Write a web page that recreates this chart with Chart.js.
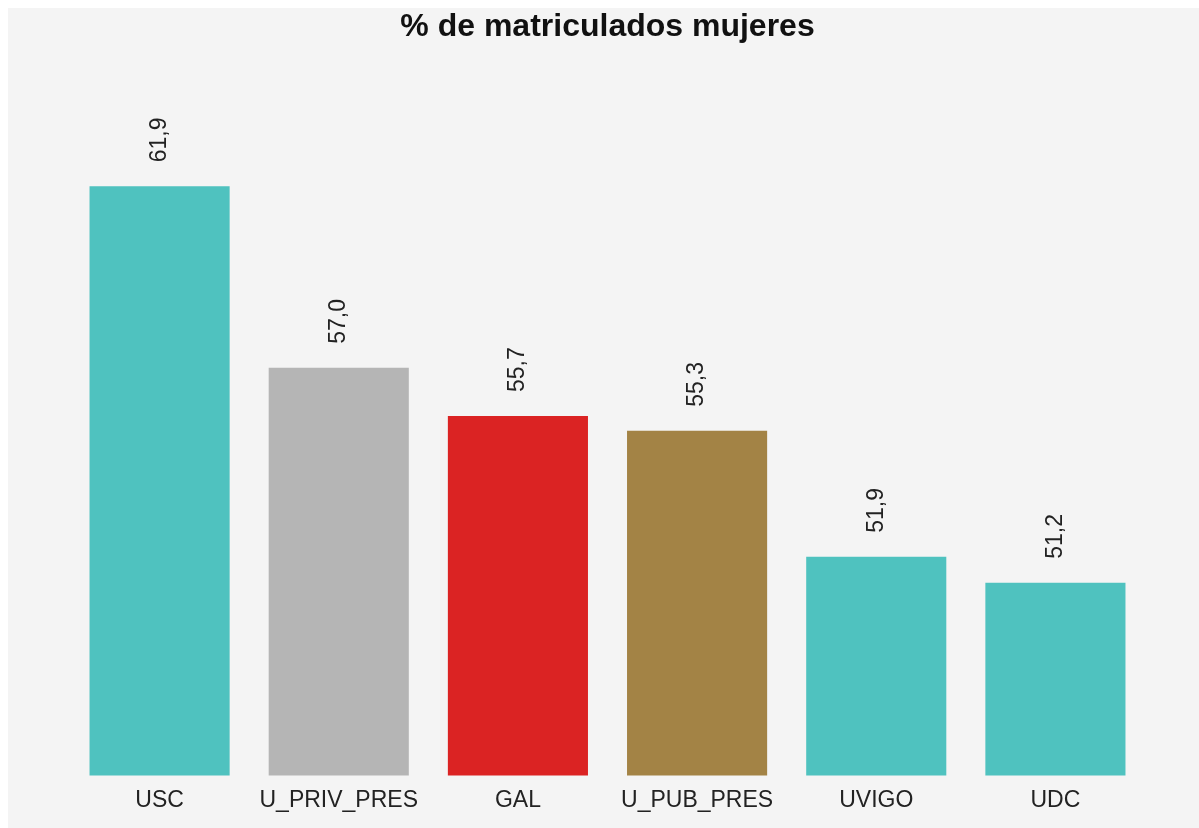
<!DOCTYPE html>
<html>
<head>
<meta charset="utf-8">
<script src="https://cdn.jsdelivr.net/npm/chart.js@4/dist/chart.umd.min.js"></script>
<style>
  html, body { margin: 0; padding: 0; background: #ffffff; }
  #wrap { position: absolute; left: 8px; top: 8px; width: 1191px; height: 820px; background: #f4f4f4; }
</style>
</head>
<body>
<div id="wrap"><canvas id="chart"></canvas></div>
<script>
const categories = ['USC', 'U_PRIV_PRES', 'GAL', 'U_PUB_PRES', 'UVIGO', 'UDC'];
const values = [61.9, 57.0, 55.7, 55.3, 51.9, 51.2];
const barColors = ['#4fc2bf', '#b5b5b5', '#db2323', '#a38345', '#4fc2bf', '#4fc2bf'];

const fontFamily = "'Liberation Sans', Arial, sans-serif";

// draws the rotated value above each bar
const valueLabels = {
  id: 'valueLabels',
  afterDatasetsDraw(chart) {
    const ctx = chart.ctx;
    const meta = chart.getDatasetMeta(0);
    ctx.save();
    ctx.fillStyle = '#222222';
    ctx.font = '23px ' + fontFamily;
    ctx.textAlign = 'left';
    ctx.textBaseline = 'middle';
    meta.data.forEach((bar, i) => {
      ctx.save();
      ctx.translate(bar.x, bar.y - 24);
      ctx.rotate(-Math.PI / 2);
      ctx.fillText(values[i].toFixed(1).replace('.', ','), 0, 0);
      ctx.restore();
    });
    ctx.restore();
  }
};

new Chart(document.getElementById('chart'), {
  type: 'bar',
  data: {
    labels: categories,
    datasets: [{
      data: values,
      backgroundColor: barColors,
      borderWidth: 0,
      barPercentage: 1,
      categoryPercentage: 0.782
    }]
  },
  options: {
    responsive: true,
    maintainAspectRatio: false,
    animation: false,
    layout: { padding: { left: 62, right: 54, top: 0, bottom: 11 } },
    plugins: {
      legend: { display: false },
      tooltip: { enabled: false },
      title: {
        display: true,
        text: '% de matriculados mujeres',
        color: '#111111',
        font: { family: fontFamily, size: 32, weight: 'bold' },
        padding: { top: 0, bottom: 62 }
      }
    },
    scales: {
      x: {
        grid: { display: false },
        border: { display: false },
        ticks: { color: '#222222', padding: 3, font: { family: fontFamily, size: 23 } }
      },
      y: {
        display: false,
        min: 46,
        max: 64
      }
    }
  },
  plugins: [valueLabels]
});
</script>
</body>
</html>
